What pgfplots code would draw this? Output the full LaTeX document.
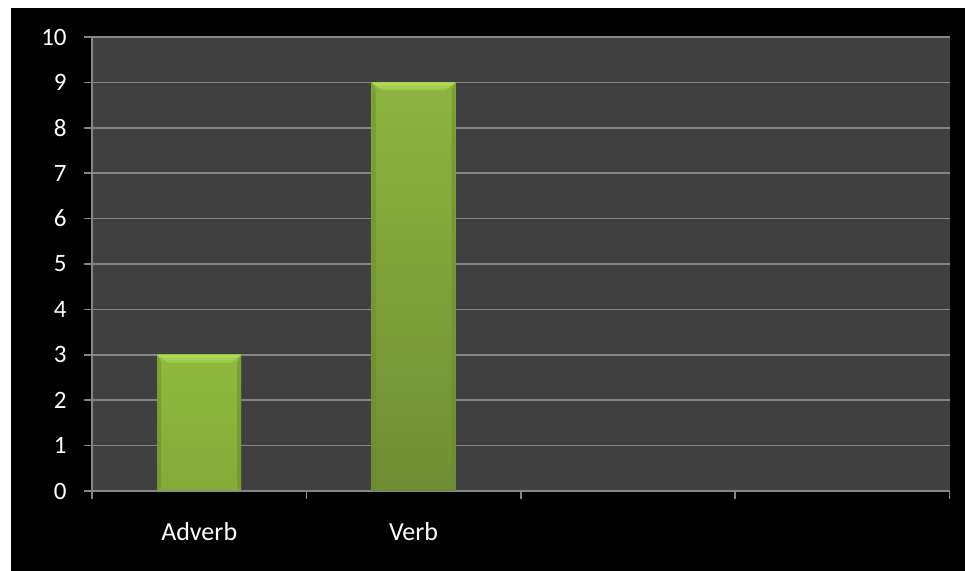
\documentclass[border=0pt]{standalone}
\usepackage{pgfplots}
\pgfplotsset{compat=1.18}
\usepackage{fontspec}
\setmainfont{Carlito}

\definecolor{plotbg}{HTML}{404040}
\definecolor{gridgray}{HTML}{868686}
\definecolor{bevellight}{HTML}{B4DC5A}
\definecolor{bevelmid}{HTML}{98C246}
\definecolor{edgedark}{HTML}{6A8A2E}
\definecolor{advtop}{HTML}{8FBA3E}
\definecolor{advbot}{HTML}{84AA39}
\definecolor{verbtop}{HTML}{8DB43F}
\definecolor{verbbot}{HTML}{6F8E34}

\begin{document}
\begin{tikzpicture}[x=1pt,y=1pt]
\useasboundingbox (0,0) rectangle (482.5,285.5);
\fill[white] (-5,-5) rectangle (490,290);
\fill[black] (5.5,-5) rectangle (490,281.5);
\begin{axis}[
  at={(46pt,40pt)}, anchor=south west,
  scale only axis, width=428.75pt, height=227pt,
  xmin=-0.5, xmax=3.5, ymin=0, ymax=10,
  axis lines*=left,
  axis line style={gridgray, line width=0.8pt},
  axis background/.style={fill=plotbg},
  ymajorgrids, grid style={gridgray, line width=0.8pt},
  ytick={0,1,...,10},
  xtick={-0.5,0.5,1.5,2.5,3.5},
  x tick label as interval,
  xticklabels={Adverb,Verb,,},
  tick align=outside,
  major tick length=4pt,
  tick style={gridgray, line width=0.8pt},
  /pgf/number format/assume math mode=true,
  ticklabel style={font=\fontsize{12.5}{15}\selectfont, text=white},
  yticklabel style={anchor=east, inner sep=0pt, xshift=-8.5pt},
  xticklabel style={font=\fontsize{13}{15}\selectfont, anchor=center, inner sep=0pt, yshift=-16.5pt},
  clip=false,
  bevel side/.style={draw=none, fill=edgedark, fill opacity=0.5, forget plot},
  bevel top/.style={draw=none, top color=bevellight, bottom color=bevelmid, forget plot},
]
% bars
\addplot[ybar, bar width=42pt, bar shift=0pt, draw=none,
  top color=advtop, bottom color=advbot]
  coordinates {(0,3)};
\addplot[ybar, bar width=42pt, bar shift=0pt, draw=none,
  top color=verbtop, bottom color=verbbot]
  coordinates {(1,9)};
% bevel edges of the Adverb bar (value 3)
\addplot[bevel side] coordinates {(-0.196,3) (-0.177,2.824) (-0.177,0.09) (-0.196,0)} -- cycle;
\addplot[bevel side] coordinates {(0.196,3) (0.177,2.824) (0.177,0.09) (0.196,0)} -- cycle;
\addplot[bevel top] coordinates {(-0.196,3) (0.196,3) (0.149,2.824) (-0.149,2.824)} -- cycle;
% bevel edges of the Verb bar (value 9)
\addplot[bevel side] coordinates {(0.804,9) (0.823,8.824) (0.823,0.09) (0.804,0)} -- cycle;
\addplot[bevel side] coordinates {(1.196,9) (1.177,8.824) (1.177,0.09) (1.196,0)} -- cycle;
\addplot[bevel top] coordinates {(0.804,9) (1.196,9) (1.149,8.824) (0.851,8.824)} -- cycle;
\end{axis}
\end{tikzpicture}
\end{document}
